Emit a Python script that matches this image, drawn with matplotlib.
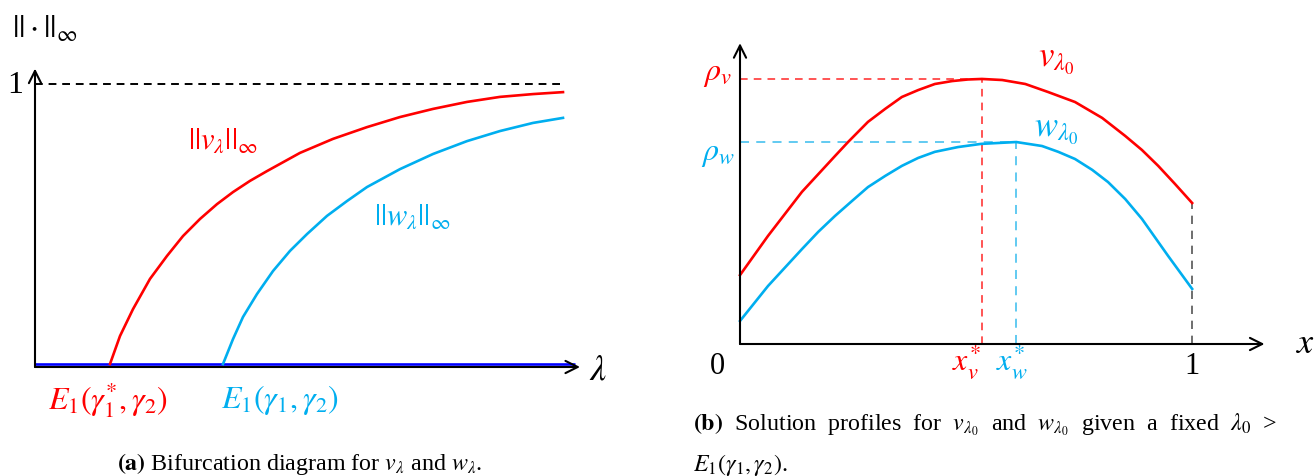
import matplotlib
matplotlib.use("Agg")
import matplotlib.pyplot as plt

plt.rcParams['font.family'] = ['Liberation Serif', 'DejaVu Serif']
plt.rcParams['mathtext.fontset'] = 'stix'

RED = '#ff0000'
CYAN = '#00aeef'
CYAN_DASH = '#55c6f0'
BLUE = '#0000ff'

# ---- (a) bifurcation branches: sup-norm against lambda ----
lam_v = [0.75, 0.85, 0.98, 1.15, 1.32, 1.48, 1.65, 1.82, 1.98, 2.15, 2.32, 2.65,
         2.98, 3.32, 3.65, 3.98, 4.32, 4.65, 4.98, 5.28]
norm_v = [0.0, 0.100, 0.196, 0.304, 0.386, 0.457, 0.518, 0.571, 0.614, 0.654, 0.689, 0.754,
          0.804, 0.846, 0.882, 0.911, 0.936, 0.954, 0.964, 0.971]
lam_w = [1.88, 1.98, 2.08, 2.22, 2.38, 2.55, 2.72, 2.92, 3.12, 3.32, 3.65, 3.98,
         4.32, 4.65, 4.98, 5.28]
norm_w = [0.0, 0.089, 0.168, 0.250, 0.332, 0.404, 0.464, 0.529, 0.582, 0.632, 0.696, 0.750,
          0.796, 0.832, 0.861, 0.879]
lam_end = 5.4
bound = 1.0

# ---- (b) solution profiles on [0, 1] ----
x_v = [0.0, 0.062, 0.137, 0.210, 0.239, 0.283, 0.321, 0.358, 0.394, 0.431, 0.469, 0.504,
       0.535, 0.580, 0.631, 0.681, 0.741, 0.801, 0.852, 0.889, 0.925, 0.962, 1.0]
v_prof = [0.260, 0.408, 0.574, 0.709, 0.762, 0.838, 0.887, 0.932, 0.958, 0.981, 0.992, 0.998,
          1.0, 0.996, 0.981, 0.951, 0.913, 0.853, 0.785, 0.732, 0.672, 0.604, 0.532]
x_w = [0.0, 0.062, 0.137, 0.173, 0.210, 0.248, 0.283, 0.321, 0.358, 0.394, 0.431, 0.482,
       0.533, 0.611, 0.668, 0.704, 0.741, 0.779, 0.814, 0.852, 0.889, 0.947, 1.0]
w_prof = [0.087, 0.219, 0.358, 0.423, 0.483, 0.540, 0.592, 0.634, 0.672, 0.702, 0.725, 0.743,
          0.755, 0.762, 0.747, 0.725, 0.698, 0.657, 0.611, 0.547, 0.472, 0.332, 0.208]
xv_star, rho_v = 0.535, 1.0
xw_star, rho_w = 0.611, 0.762
v_at_1 = 0.532

W, H = 1315, 477
fig = plt.figure(figsize=(W / 100, H / 100), dpi=100)


def px_axes(x0, x1, y_top, y_bot):
    ax = fig.add_axes([x0 / W, 1 - y_bot / H, (x1 - x0) / W, (y_bot - y_top) / H])
    ax.set_axis_off()
    return ax


def arrow(ax, start, end):
    ax.annotate('', xy=end, xytext=start,
                arrowprops=dict(arrowstyle='->', lw=1.5, color='black',
                                shrinkA=0, shrinkB=0, mutation_scale=22),
                annotation_clip=False)


LW = 1.9
CAP = 17.3

# ---------------- panel (a) ----------------
axa = px_axes(35, 585, 71, 368)
y_ax = -0.0107
axa.set_xlim(0, 5.5)
axa.set_ylim(y_ax, 1.05)
arrow(axa, (0, y_ax), (0, 1.055))
arrow(axa, (0, y_ax), (5.45, y_ax))
axa.plot([0, lam_end], [0, 0], color=BLUE, lw=LW, solid_capstyle='butt')
axa.plot([0, 5.3], [bound, bound], color='black', lw=1.4, dashes=(4, 3))
axa.plot(lam_v, norm_v, color=RED, lw=LW, clip_on=False, solid_joinstyle='round')
axa.plot(lam_w, norm_w, color=CYAN, lw=LW, clip_on=False, solid_joinstyle='round')

axa.text(-0.2, bound, '1', fontsize=23, ha='center', va='center')
axa.text(5.63, -0.02, r'$\lambda$', fontsize=26, ha='center', va='center')
axa.text(0.1, 1.196, r'$||\cdot||_\infty$', fontsize=23, ha='center', va='center')
axa.text(1.88, 0.80, r'$||v_\lambda||_\infty$', fontsize=22, ha='center', va='center', color=RED)
axa.text(3.77, 0.528, r'$||w_\lambda||_\infty$', fontsize=22, ha='center', va='center', color=CYAN)
axa.text(0.73, -0.125, r'$E_1(\gamma_1^{*},\gamma_2)$', fontsize=23, ha='center', va='center', color=RED)
axa.text(2.45, -0.125, r'$E_1(\gamma_1,\gamma_2)$', fontsize=23, ha='center', va='center', color=CYAN)

fig.text(300 / W, 1 - 464 / H, r'$\mathbf{(a)}$ Bifurcation diagram for $v_\lambda$ and $w_\lambda$.',
         fontsize=CAP, ha='center', va='center')

# ---------------- panel (b) ----------------
axb = px_axes(740, 1269, 45.5, 345)
axb.set_xlim(0, 1.17)
axb.set_ylim(0, 1.13)
arrow(axb, (0, 0), (0, 1.135))
arrow(axb, (0, 0), (1.16, 0))

axb.plot([0, xv_star], [rho_v, rho_v], color=RED, lw=1.1, dashes=(5, 4), alpha=0.85)
axb.plot([xv_star, xv_star], [0, rho_v], color=RED, lw=1.1, dashes=(5, 4), alpha=0.85)
axb.plot([0, xw_star], [rho_w, rho_w], color=CYAN_DASH, lw=1.3, dashes=(5, 4))
axb.plot([xw_star, xw_star], [0, rho_w], color=CYAN_DASH, lw=1.3, dashes=(5, 4))
axb.plot([1, 1], [0, v_at_1], color='#555555', lw=1.2, dashes=(5, 4))

axb.plot(x_v, v_prof, color=RED, lw=LW, clip_on=False, solid_joinstyle='round')
axb.plot(x_w, w_prof, color=CYAN, lw=LW, clip_on=False, solid_joinstyle='round')

axb.text(-0.049, 1.02, r'$\rho_v$', fontsize=23, ha='center', va='center', color=RED)
axb.text(-0.049, 0.717, r'$\rho_w$', fontsize=23, ha='center', va='center', color=CYAN)
axb.text(0.70, 1.075, r'$v_{\lambda_0}$', fontsize=25, ha='center', va='center', color=RED)
axb.text(0.70, 0.81, r'$w_{\lambda_0}$', fontsize=25, ha='center', va='center', color=CYAN)
axb.text(0.50, -0.064, r'$x_v^{*}$', fontsize=23, ha='center', va='center', color=RED)
axb.text(0.602, -0.064, r'$x_w^{*}$', fontsize=23, ha='center', va='center', color=CYAN)
axb.text(-0.049, -0.083, '0', fontsize=22, ha='center', va='center')
axb.text(1.0, -0.083, '1', fontsize=22, ha='center', va='center')
axb.text(1.25, 0.0, r'$x$', fontsize=26, ha='center', va='center')

# justified first caption line: wider word gaps
fig.text(693 / W, 1 - 425 / H,
         r'$\mathbf{(b)}$  Solution  profiles  for  $v_{\lambda_0}$  and  $w_{\lambda_0}$  given  a  fixed  $\lambda_0$  >',
         fontsize=CAP, ha='left', va='center')
fig.text(693 / W, 1 - 465 / H, r'$E_1(\gamma_1,\gamma_2)$.', fontsize=CAP, ha='left', va='center')

fig.savefig('out.png', dpi=100)
